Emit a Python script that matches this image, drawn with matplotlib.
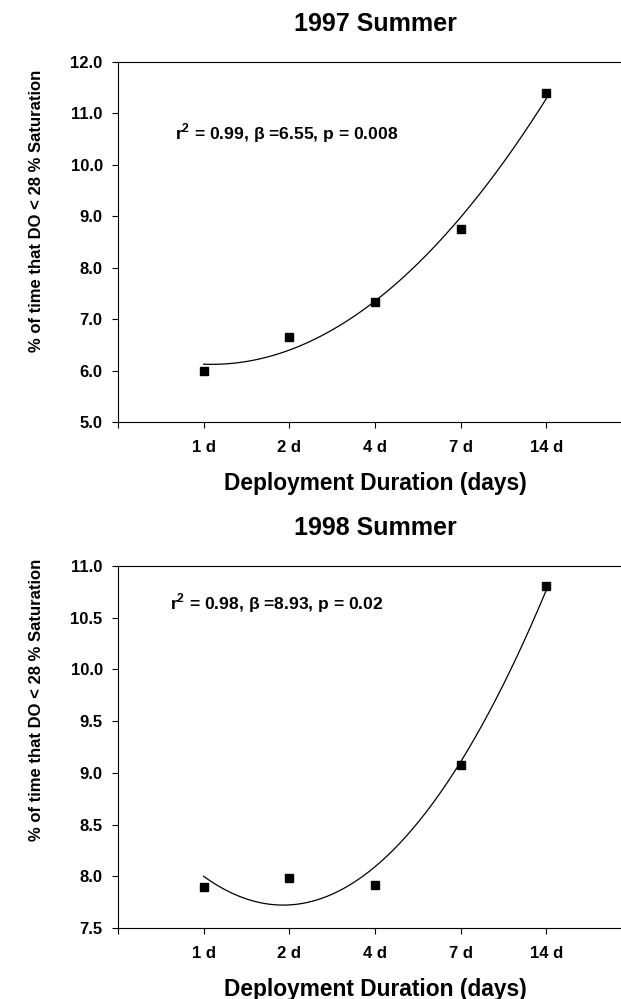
import numpy as np
import matplotlib
matplotlib.use("Agg")
import matplotlib.pyplot as plt
from matplotlib.ticker import FormatStrFormatter, MultipleLocator

plt.rcParams['font.family'] = ['Liberation Sans', 'DejaVu Sans']
plt.rcParams['font.weight'] = 'bold'
plt.rcParams['mathtext.fontset'] = 'custom'
plt.rcParams['mathtext.rm'] = 'Liberation Sans:bold'
plt.rcParams['mathtext.bf'] = 'Liberation Sans:bold'

durations = ['1 d', '2 d', '4 d', '7 d', '14 d']
pct_1997 = [6.00, 6.65, 7.33, 8.75, 11.40]
pct_1998 = [7.90, 7.98, 7.92, 9.08, 10.81]
stats_1997 = r'r$^{\bf 2}$ = 0.99, $\bf\beta$ =6.55, p = 0.008'
stats_1998 = r'r$^{\bf 2}$ = 0.98, $\bf\beta$ =8.93, p = 0.02'

fig = plt.figure(figsize=(6.21, 9.99), dpi=100)
W, H = 621, 999


def panel(top, bottom, title, yvals, ylim, ystep, stats, stats_xy, ylab_y):
    ax = fig.add_axes([118 / W, 1 - bottom / H, (632 - 118) / W, (bottom - top) / H])
    x = np.arange(1, len(yvals) + 1)
    # quadratic regression through the category positions
    coef = np.polyfit(x, yvals, 2)
    xs = np.linspace(1, len(yvals), 200)
    ax.plot(xs, np.polyval(coef, xs), color='black', lw=0.9)
    ax.plot(x, yvals, 's', color='black', ms=6)

    ax.set_xlim(0, 6)
    ax.set_ylim(*ylim)
    ax.set_xticks(range(0, 7))
    ax.set_xticklabels([''] + durations + [''])
    ax.yaxis.set_major_locator(MultipleLocator(ystep))
    ax.yaxis.set_major_formatter(FormatStrFormatter('%.1f'))
    ax.tick_params(direction='out', length=4, width=0.8, labelsize=12, pad=7)
    ax.tick_params(axis='x', pad=9)
    ax.spines['right'].set_visible(False)
    for s in ax.spines.values():
        s.set_linewidth(0.8)

    ax.set_title(title, fontsize=18, fontweight='bold', pad=22)
    ax.set_xlabel('Deployment Duration (days)', fontsize=16.4, fontweight='bold', labelpad=12)
    ax.set_ylabel('% of time that DO < 28 % Saturation', fontsize=12, fontweight='bold')
    ax.yaxis.set_label_coords(-0.143, ylab_y)
    ax.text(stats_xy[0], stats_xy[1], stats, fontsize=12.6, fontweight='bold', va='center')
    return ax


panel(61.7, 422, '1997 Summer', pct_1997, (5.0, 12.0), 1.0, stats_1997, (0.66, 10.62), 0.585)
panel(566, 928, '1998 Summer', pct_1998, (7.5, 11.0), 0.5, stats_1998, (0.61, 10.64), 0.63)

fig.savefig('out.png', dpi=100)
